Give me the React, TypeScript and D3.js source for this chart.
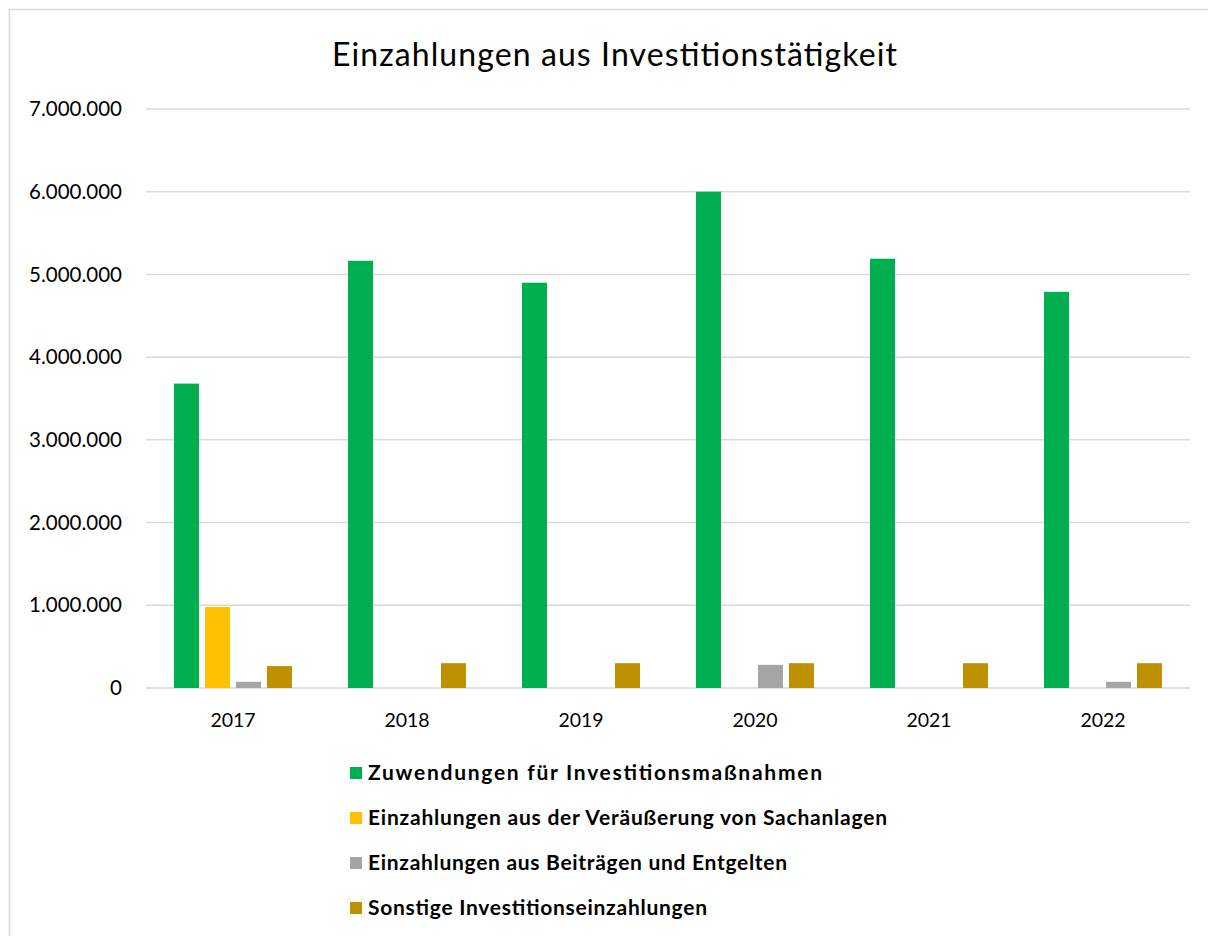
import React from "react";
import * as d3 from "d3";

const years = ["2017", "2018", "2019", "2020", "2021", "2022"];
const seriesNames = [
  "Zuwendungen für Investitionsmaßnahmen",
  "Einzahlungen aus der Veräußerung von Sachanlagen",
  "Einzahlungen aus Beiträgen und Entgelten",
  "Sonstige Investitionseinzahlungen",
];
const legendWidths = [454, 519, 419, 339];
const zuwendungen = [3680000, 5165000, 4900000, 6000000, 5190000, 4790000];
const veraeusserung = [980000, 0, 0, 0, 0, 0];
const beitraege = [75000, 0, 0, 280000, 0, 75000];
const sonstige = [265000, 300000, 300000, 300000, 300000, 300000];
const colors = ["#00B050", "#FFC000", "#A5A5A5", "#BF9000"];
const yTicks = [0, 1000000, 2000000, 3000000, 4000000, 5000000, 6000000, 7000000];

const seriesValues = [zuwendungen, veraeusserung, beitraege, sonstige];

const fmt = (v: number) => d3.format(",")(v).replace(/,/g, ".");

export default function App() {
  const W = 1208, H = 936;
  const left = 146, right = 1190, top = 109, bottom = 688;
  const x = d3.scaleBand<string>().domain(years).range([left, right]).padding(0);
  const y = d3.scaleLinear().domain([0, 7000000]).range([bottom, top]);
  const barW = 25, step = 31;
  const groupW = step * 3 + barW;
  const font = "Lato, 'Open Sans', sans-serif";

  return (
    <svg width={W} height={H} style={{ position: "absolute", left: 0, top: 0, background: "#fff" }}>
      <rect x={9.5} y={9.5} width={W + 20} height={H + 20} fill="#fff" stroke="#d9d9d9" strokeWidth={1.5} />
      <text x={332} y={66} fontFamily={font} fontSize={32} fill="#000" textLength={565} lengthAdjust="spacing">
        Einzahlungen aus Investitionstätigkeit
      </text>
      {yTicks.map((t) => (
        <g key={t}>
          <line x1={left} x2={right} y1={y(t)} y2={y(t)} stroke="#d9d9d9" strokeWidth={1.5} />
          <text x={122} y={y(t)} dy="0.35em" textAnchor="end" fontFamily={font} fontSize={20.5} fill="#000">
            {fmt(t)}
          </text>
        </g>
      ))}
      {years.map((yr, i) => {
        const cx = (x(yr) as number) + x.bandwidth() / 2;
        const start = cx - groupW / 2;
        return (
          <g key={yr}>
            {seriesValues.map((vals, s) =>
              vals[i] > 0 ? (
                <rect key={s} x={start + s * step} y={y(vals[i])} width={barW} height={bottom - y(vals[i])} fill={colors[s]} />
              ) : null
            )}
            <text x={cx} y={720} dy="0.35em" textAnchor="middle" fontFamily={font} fontSize={19.5} fill="#000">
              {yr}
            </text>
          </g>
        );
      })}
      {seriesNames.map((n, s) => (
        <g key={n} transform={`translate(350, ${773 + s * 45})`}>
          <rect x={0} y={-6} width={12} height={12} fill={colors[s]} />
          <text x={18} y={0} dy="0.35em" fontFamily={font} fontWeight="bold" fontSize={21} fill="#000" textLength={legendWidths[s]} lengthAdjust="spacing">
            {n}
          </text>
        </g>
      ))}
    </svg>
  );
}
